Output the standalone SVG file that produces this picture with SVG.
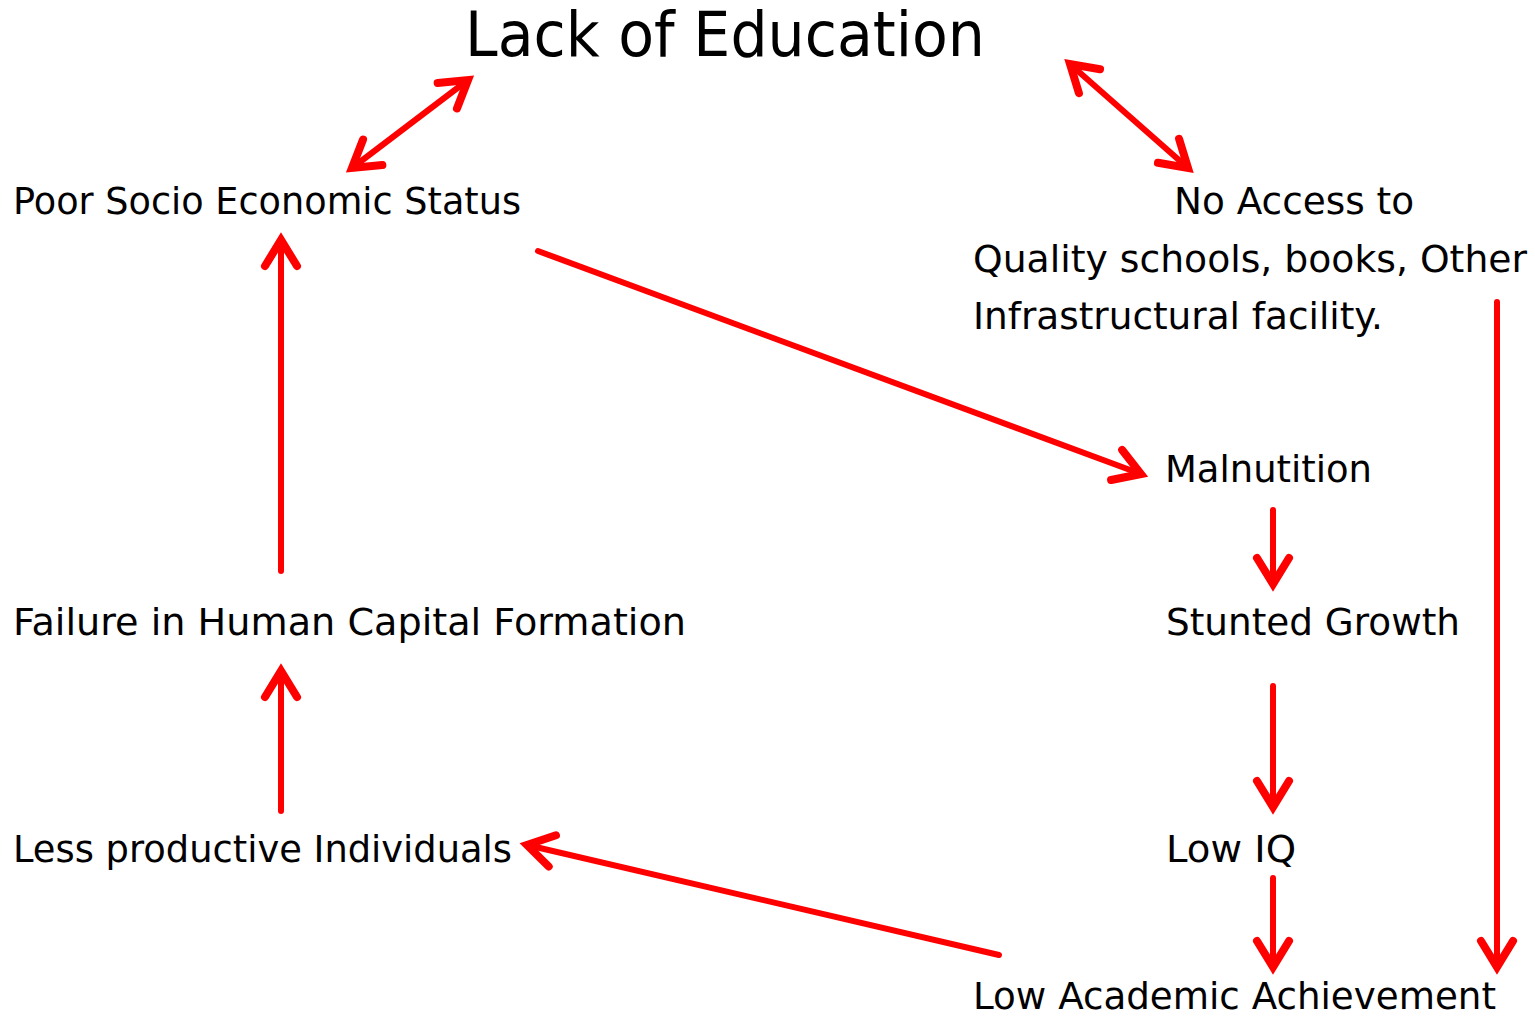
<svg xmlns="http://www.w3.org/2000/svg" width="1535" height="1019" viewBox="0 0 1535 1019">
<style>
text{font-family:"DejaVu Sans","Liberation Sans",sans-serif;fill:#000;font-size:38px}
.t{font-size:62px}
.c{stroke:#ff0000;stroke-width:6;fill:none;stroke-linecap:round}
</style>
<defs>
<marker id="ah" markerUnits="userSpaceOnUse" viewBox="-40 -25 50 50" refX="0" refY="0" markerWidth="50" markerHeight="50" orient="auto-start-reverse">
<path d="M -26 -16 L 0 0 L -26 16" fill="none" stroke="#ff0000" stroke-width="8" stroke-linecap="round" stroke-linejoin="miter" stroke-miterlimit="10"/>
</marker>
</defs>
<rect width="1535" height="1019" fill="#fff"/>
<g id="connectors">
<line class="c" x1="352" y1="168" x2="468" y2="80" marker-start="url(#ah)" marker-end="url(#ah)"/>
<line class="c" x1="1070" y1="64" x2="1188" y2="168" marker-start="url(#ah)" marker-end="url(#ah)"/>
<line class="c" x1="538" y1="251" x2="1141" y2="474" marker-end="url(#ah)"/>
<line class="c" x1="1273" y1="510" x2="1273" y2="584" marker-end="url(#ah)"/>
<line class="c" x1="1273" y1="686" x2="1273" y2="807" marker-end="url(#ah)"/>
<line class="c" x1="1273" y1="878" x2="1273" y2="967" marker-end="url(#ah)"/>
<line class="c" x1="1497" y1="302" x2="1497" y2="967" marker-end="url(#ah)"/>
<line class="c" x1="999" y1="955" x2="527" y2="845" marker-end="url(#ah)"/>
<line class="c" x1="281" y1="811" x2="281" y2="671" marker-end="url(#ah)"/>
<line class="c" x1="281" y1="571" x2="281" y2="240" marker-end="url(#ah)"/>
</g>
<g id="title"><text class="t" x="465" y="56" textLength="520" lengthAdjust="spacingAndGlyphs">Lack of Education</text></g>
<g id="poor"><text x="13" y="214" textLength="508" lengthAdjust="spacingAndGlyphs">Poor Socio Economic Status</text></g>
<g id="access">
<text x="1174" y="214" textLength="240" lengthAdjust="spacingAndGlyphs">No Access to</text>
<text x="973" y="272" textLength="554" lengthAdjust="spacingAndGlyphs">Quality schools, books, Other</text>
<text x="973" y="329" textLength="410" lengthAdjust="spacingAndGlyphs">Infrastructural facility.</text>
</g>
<g id="malnutrition"><text x="1165" y="482" textLength="207" lengthAdjust="spacingAndGlyphs">Malnutition</text></g>
<g id="stunted"><text x="1166" y="635" textLength="294" lengthAdjust="spacingAndGlyphs">Stunted Growth</text></g>
<g id="failure"><text x="13" y="635" textLength="673" lengthAdjust="spacingAndGlyphs">Failure in Human Capital Formation</text></g>
<g id="lowiq"><text x="1166" y="862" textLength="130" lengthAdjust="spacingAndGlyphs">Low IQ</text></g>
<g id="less"><text x="13" y="862" textLength="499" lengthAdjust="spacingAndGlyphs">Less productive Individuals</text></g>
<g id="academic"><text x="973" y="1009" textLength="523" lengthAdjust="spacingAndGlyphs">Low Academic Achievement</text></g>
</svg>
